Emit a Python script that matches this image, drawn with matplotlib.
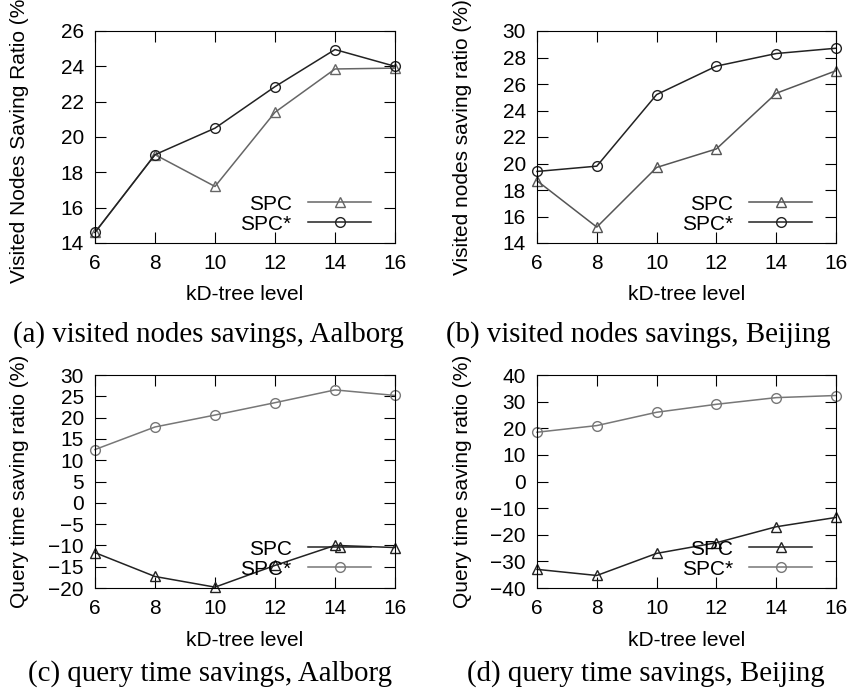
import numpy as np
import matplotlib.pyplot as plt

plt.rcParams['font.family'] = ['Liberation Sans', 'DejaVu Sans']

levels = [6, 8, 10, 12, 14, 16]

# (a) visited nodes, Aalborg
a_spc = [14.6, 19.0, 17.2, 21.4, 23.85, 23.9]
a_spcs = [14.6, 19.0, 20.5, 22.85, 24.95, 24.0]
# (b) visited nodes, Beijing
b_spc = [18.7, 15.2, 19.7, 21.1, 25.3, 27.0]
b_spcs = [19.4, 19.8, 25.2, 27.35, 28.3, 28.7]
# (c) query time, Aalborg
c_spc = [-11.7, -17.3, -19.8, -14.7, -10.0, -10.5]
c_spcs = [12.5, 17.8, 20.6, 23.5, 26.5, 25.2]
# (d) query time, Beijing
d_spc = [-33.0, -35.3, -27.0, -23.0, -17.0, -13.5]
d_spcs = [18.5, 21.0, 26.0, 29.0, 31.5, 32.3]

panels = [
    (a_spc, a_spcs, (14, 26), 2, 'Visited Nodes Saving Ratio (%)',
     '(a) visited nodes savings, Aalborg', ['#666666', '#222222']),
    (b_spc, b_spcs, (14, 30), 2, 'Visited nodes saving ratio (%)',
     '(b) visited nodes savings, Beijing', ['#555555', '#222222']),
    (c_spc, c_spcs, (-20, 30), 5, 'Query time saving ratio (%)',
     '(c) query time savings, Aalborg', ['#222222', '#777777']),
    (d_spc, d_spcs, (-40, 40), 10, 'Query time saving ratio (%)',
     '(d) query time savings, Beijing', ['#222222', '#777777']),
]

fig = plt.figure(figsize=(8.54, 6.96), dpi=100)

W, H = 854, 696
boxes = [(95, 31, 395, 243), (537, 31, 836, 243),
         (95, 375, 395, 588), (537, 375, 836, 588)]
caption_pos = [(208, 335), (638, 335), (210, 674), (646, 674)]
xlabel_y = [295, 295, 640, 640]

for (spc, spcs, ylim, ystep, ylabel, caption, cols), box, cp, xly in zip(panels, boxes, caption_pos, xlabel_y):
    x0, y0, x1, y1 = box
    ax = fig.add_axes([x0 / W, 1 - y1 / H, (x1 - x0) / W, (y1 - y0) / H])
    ax.plot(levels, spc, color=cols[0], marker='^', mfc='none', mec=cols[0],
            markersize=7, lw=1.1, label='SPC', clip_on=False)
    ax.plot(levels, spcs, color=cols[1], marker='o', mfc='none', mec=cols[1],
            markersize=7, lw=1.1, label='SPC*', clip_on=False)
    ax.set_xlim(6, 16)
    ax.set_ylim(*ylim)
    ax.set_xticks(levels)
    ax.set_yticks(np.arange(ylim[0], ylim[1] + 0.1, ystep))
    ax.tick_params(direction='in', top=True, right=True, length=8,
                   labelsize=15, pad=8)
    ax.set_ylabel(ylabel, fontsize=15)
    ax.yaxis.set_label_coords(-0.25, 0.5)
    ax.yaxis.label.set_va('center')
    ax.set_xlabel('kD-tree level', fontsize=15)
    ax.xaxis.label.set_va('center')
    ax.xaxis.set_label_coords(0.5, (y1 - xly) / (y1 - y0))
    ax.legend(loc='lower right', bbox_to_anchor=(0.975, -0.035), frameon=False,
              markerfirst=False, fontsize=15, handlelength=3.0,
              handletextpad=0.8, labelspacing=0.05, borderpad=0.3)
    fig.text(cp[0] / W, 1 - cp[1] / H, caption, ha='center', va='center',
             fontsize=20.8, family='Liberation Serif')

fig.savefig('out.png', dpi=100)
